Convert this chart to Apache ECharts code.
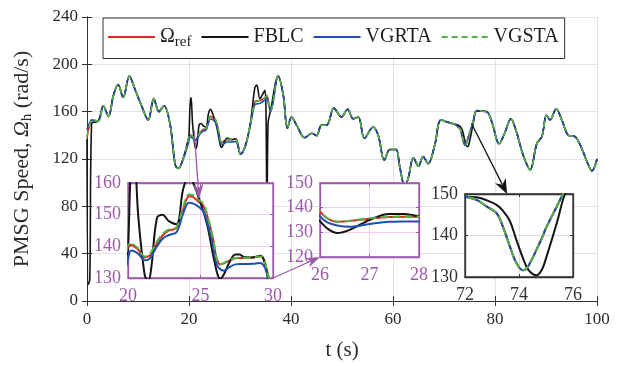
<!DOCTYPE html>
<html>
<head>
<meta charset="utf-8">
<script src="https://cdn.jsdelivr.net/npm/echarts@6/dist/echarts.min.js"></script>
<style>
  html, body { margin: 0; background: #fff; }
  #chart { width: 620px; height: 366px; }
</style>
</head>
<body>
<div id="chart"></div>
<script>
// time (s)
const tSec = [
  0, 0.25, 0.55, 0.9, 2.2, 3.2, 4.2, 5.2, 6.1, 7.1, 8.3, 9.4, 10.7, 12, 13.1, 14.1, 15.1, 16.3, 17.3, 17.9,
  18.9, 19.9, 20, 20.2, 20.4, 20.7, 21.15, 21.4, 21.6, 22, 22.4, 22.8, 23.35, 23.8, 24.2, 24.5, 24.9, 25.2, 25.5, 25.9,
  26, 26.15, 26.35, 26.6, 27, 27.4, 27.7, 28, 28.6, 29.1, 29.35, 29.7, 30.1, 31, 32, 32.9, 33.3, 33.9, 34.6, 34.9,
  35.1, 35.3, 35.5, 36, 37.5, 38.5, 39.3, 40.1, 41.1, 42.7, 44.1, 45, 46, 47, 48.4, 49.9, 51.1, 52.2, 53.2, 54.4,
  56.1, 57.1, 58.3, 59.4, 60.6, 61.3, 62.3, 63, 64, 65, 65.9, 66.9, 68.2, 69.4, 70.8, 72, 72.43, 72.8, 73.17, 73.4,
  73.66, 73.9, 74.15, 74.34, 74.65, 74.85, 75, 75.4, 75.7, 76.4, 77.4, 78.4, 79.4, 80.8, 82, 83.1, 84.2, 85.5, 86.9, 88.2,
  89.2, 90.1, 90.8, 92, 93.1, 94.4, 95.7, 97, 98.3, 99, 100
];
// speed (rad/s)
const refSpeed = [
  138, 144, 149, 153, 152, 165, 156, 174, 183, 172, 190, 179, 165, 153, 171, 160, 165, 149, 115, 112,
  121, 137, 139.5, 140.5, 140, 139, 136.5, 136.8, 137.5, 141, 143.5, 145, 145.8, 151.5, 155.8, 155.5, 154, 152.8, 149, 141.5,
  138.5, 135.7, 134.3, 134.6, 135.5, 136.2, 136.3, 136.3, 136.5, 136.8, 136, 130.3, 124, 130.5, 149, 168.5, 169, 169.5, 171, 172,
  173, 173.5, 170, 161, 190, 173.5, 146, 155.5, 148.6, 138, 141.7, 139.7, 148.6, 148.6, 163, 155.5, 162, 154, 155.5, 137.5,
  147, 140, 119, 128, 128, 114, 97, 104, 121, 114, 122, 116, 132, 153, 151, 149.4, 148.6, 147, 145.4, 142.2,
  137.4, 133.4, 131.6, 132.6, 136.6, 139.4, 141.8, 147, 151, 161, 160.5, 160, 151, 133, 143, 154, 143, 123.6, 111, 133,
  139, 157, 153, 162.5, 153, 140, 139, 129, 115, 110, 120
];
const fblcSpeed = [
  137, 14, 18, 150, 152, 165, 156, 174, 183, 172, 190, 179, 165, 153, 171, 160, 165, 149, 115, 112,
  121, 137, 139, 165, 172, 150, 131, 129, 133, 149, 150, 148, 147, 158, 162, 160, 155, 151, 146, 136.5,
  134.5, 131.5, 129.7, 131, 135, 137.4, 137.4, 136.6, 136.5, 137, 136, 129, 124, 130.5, 149, 180, 182.5, 171, 176, 178,
  160, 60, 150, 161, 190, 173.5, 146, 155.5, 148.6, 138, 141.7, 139.7, 148.6, 148.6, 163, 155.5, 162, 154, 155.5, 137.5,
  147, 140, 119, 128, 128, 114, 97, 104, 121, 114, 122, 116, 132, 153, 151, 149.4, 149.2, 148.5, 147.4, 146,
  143.5, 139, 134.5, 131.8, 130.4, 131.8, 134.5, 143, 150, 160.5, 160.5, 160, 151, 133, 143, 154, 143, 123.6, 111, 133,
  139, 157, 153, 162.5, 153, 140, 139, 129, 115, 110, 120
];
const vgrtaSpeed = [
  145, 148, 151, 153, 152, 165, 156, 174, 183, 172, 190, 179, 165, 153, 171, 160, 165, 149, 115, 112,
  120, 134, 136, 138.7, 138.5, 137.7, 135.6, 135.8, 136.8, 140, 142.5, 143.5, 144.5, 150.3, 153.8, 153.5, 152.4, 151, 147, 139.5,
  136.5, 134, 132.8, 132.3, 133.4, 134.3, 134.4, 134.4, 134.5, 134.7, 134, 130, 124, 130, 148, 166, 166.5, 167, 169, 170,
  171, 171.5, 168.5, 160, 190, 173.5, 146, 155.5, 148.6, 138, 141.7, 139.7, 148.6, 148.6, 163, 155.5, 162, 154, 155.5, 137.5,
  147, 140, 119, 128, 128, 114, 97, 104, 121, 114, 122, 116, 132, 153, 151, 149.4, 148.6, 147, 145.4, 142.2,
  137.4, 133.4, 131.6, 132.6, 136.6, 139.4, 141.8, 147, 151, 161, 160.5, 160, 151, 133, 143, 154, 143, 123.6, 111, 133,
  139, 157, 153, 162.5, 153, 140, 139, 129, 115, 110, 120
];
const vgstaSpeed = [
  139, 144, 149, 153, 152, 165, 156, 174, 183, 172, 190, 179, 165, 153, 171, 160, 165, 149, 115, 112,
  121, 138, 140.3, 141, 140.5, 139.3, 136.8, 137.2, 138.2, 141.5, 144, 145.3, 146.1, 152.4, 156.4, 156.2, 154.5, 153.5, 149.3, 141.8,
  138.5, 135.7, 134.3, 134.7, 135.7, 136.3, 136.4, 136.4, 136.6, 136.8, 136.1, 130.3, 124, 130.5, 149, 168, 168.5, 169.5, 171, 172,
  173, 173.5, 170, 161, 190, 173.5, 146, 155.5, 148.6, 138, 141.7, 139.7, 148.6, 148.6, 163, 155.5, 162, 154, 155.5, 137.5,
  147, 140, 119, 128, 128, 114, 97, 104, 121, 114, 122, 116, 132, 153, 151, 149.4, 148.6, 147, 145.4, 142.2,
  137.4, 133.4, 131.6, 132.6, 136.6, 139.4, 141.8, 147, 151, 161, 160.5, 160, 151, 133, 143, 154, 143, 123.6, 111, 133,
  139, 157, 153, 162.5, 153, 140, 139, 129, 115, 110, 120
];

const seriesNames = ['ref', 'FBLC', 'VGRTA', 'VGSTA'];
const seriesColors = ['#e3261e', '#141414', '#1d50ae', '#55b144'];
const seriesValues = [refSpeed, fblcSpeed, vgrtaSpeed, vgstaSpeed];

// [xmin, xmax, xstep, ymin, ymax, ystep] for main axes and the three zoom boxes
const axisRanges = [
  [0, 100, 20, 0, 240, 40],
  [20, 30, 5, 130, 160, 10],
  [26, 28, 1, 120, 150, 10],
  [72, 76, 2, 130, 150, 10]
];

const purple = '#9d58ac';
const serif = 'Liberation Serif';

const chart = echarts.init(document.getElementById('chart'));

const gridBoxes = [
  { left: 87, top: 17, width: 510, height: 288 },
  { left: 128, top: 183, width: 145, height: 95 },
  { left: 320, top: 183, width: 99, height: 74 },
  { left: 465, top: 194, width: 108, height: 83 }
];
const frameColor = ['#333', purple, purple, '#333'];
const splitColor = ['#e2e2e2', '#f3cdea', '#f3cdea', '#dcdcdc'];
const labelSize = [17, 18, 18, 18];

const grids = gridBoxes.map((b, i) => Object.assign({}, b, i === 0 ? { show: false } : {
  show: true, backgroundColor: '#fff', borderColor: frameColor[i], borderWidth: 1.3, z: 10
}));

const xAxes = [];
const yAxes = [];
axisRanges.forEach((r, i) => {
  const inset = i > 0;
  const z = inset ? 11 : 0;
  const line = { show: true, lineStyle: { color: frameColor[i], width: inset ? 1.3 : 1 } };
  const tick = { show: true, inside: true, length: inset ? 3 : 5, lineStyle: { color: frameColor[i] } };
  const label = { color: inset ? frameColor[i] : '#2b2b2b', fontFamily: serif, fontSize: labelSize[i] };
  xAxes.push({
    type: 'value', gridIndex: i, min: r[0], max: r[1], interval: r[2], z,
    axisLine: line, axisTick: tick,
    axisLabel: Object.assign({ margin: inset ? 9 : 10 }, label),
    splitLine: { show: true, lineStyle: { color: splitColor[i], width: 1 } }
  });
  xAxes.push({
    type: 'value', gridIndex: i, position: 'top', min: r[0], max: r[1], interval: r[2], z,
    axisLine: line, axisTick: tick, axisLabel: { show: false }, splitLine: { show: false }
  });
  yAxes.push({
    type: 'value', gridIndex: i, min: r[3], max: r[4], interval: r[5], z,
    axisLine: line, axisTick: tick,
    axisLabel: Object.assign({ margin: inset ? 7 : 9 }, label),
    splitLine: { show: true, lineStyle: { color: splitColor[i], width: 1 } }
  });
  yAxes.push({
    type: 'value', gridIndex: i, position: 'right', min: r[3], max: r[4], interval: r[5], z,
    axisLine: line, axisTick: tick, axisLabel: { show: false }, splitLine: { show: false }
  });
});

// axis titles
xAxes[0].name = 't (s)';
xAxes[0].nameLocation = 'middle';
xAxes[0].nameGap = 39;
xAxes[0].nameTextStyle = { fontFamily: serif, fontSize: 21, color: '#2b2b2b' };
yAxes[0].name = '{t|PMSG Speed, }{o|Ω}{s|h}{t| (rad/s)}';
yAxes[0].nameLocation = 'middle';
yAxes[0].nameGap = 52;
yAxes[0].nameTextStyle = {
  color: '#2b2b2b',
  rich: {
    t: { fontFamily: serif, fontSize: 22, color: '#2b2b2b' },
    o: { fontFamily: serif, fontSize: 22, fontStyle: 'italic', color: '#2b2b2b' },
    s: { fontFamily: serif, fontSize: 15, color: '#2b2b2b', verticalAlign: 'bottom', padding: [10, 0, 0, 0] }
  }
};

const series = [];
axisRanges.forEach((r, gi) => {
  seriesNames.forEach((name, k) => {
    const dashed = name === 'VGSTA';
    series.push({
      name, type: 'line',
      xAxisIndex: gi * 2, yAxisIndex: gi * 2,
      data: tSec.map((t, j) => [t, seriesValues[k][j]]),
      showSymbol: false, symbol: 'none', smooth: 0.35, clip: true,
      z: gi === 0 ? 2 : 12,
      lineStyle: {
        color: seriesColors[k],
        width: gi === 0 ? 1.6 : 2,
        type: dashed ? (gi === 0 ? [6, 4] : [8, 4]) : 'solid'
      },
      itemStyle: { color: seriesColors[k] },
      silent: true
    });
  });
});

chart.setOption({
  animation: false,
  backgroundColor: '#fff',
  grid: grids,
  xAxis: xAxes,
  yAxis: yAxes,
  legend: {
    data: seriesNames,
    left: 103, top: 18,
    padding: [9, 6, 9, 4],
    itemGap: 9, itemWidth: 47, itemHeight: 12,
    borderColor: '#333', borderWidth: 1, backgroundColor: '#fff',
    z: 20,
    itemStyle: { opacity: 0 },
    formatter: n => n === 'ref' ? '{o|Ω}{s|ref}' : n,
    textStyle: {
      fontFamily: serif, fontSize: 20, color: '#1e1e1e',
      rich: {
        o: { fontFamily: serif, fontSize: 20, color: '#1e1e1e' },
        s: { fontFamily: serif, fontSize: 15, color: '#1e1e1e', verticalAlign: 'bottom', padding: [10, 0, 0, 0] }
      }
    }
  },
  series
});

// pointer arrows between the curves and the zoom boxes
function arrow(a, b, color, len, wid) {
  const dx = b[0] - a[0], dy = b[1] - a[1];
  const d = Math.hypot(dx, dy), ux = dx / d, uy = dy / d, nx = -uy, ny = ux;
  const back = [b[0] - ux * len, b[1] - uy * len];
  const notch = [b[0] - ux * len * 0.7, b[1] - uy * len * 0.7];
  return [
    { type: 'line', z: 100, silent: true,
      shape: { x1: a[0], y1: a[1], x2: notch[0], y2: notch[1] },
      style: { stroke: color, lineWidth: 1.3 } },
    { type: 'polygon', z: 100, silent: true,
      shape: { points: [b, [back[0] + nx * wid / 2, back[1] + ny * wid / 2], notch, [back[0] - nx * wid / 2, back[1] - ny * wid / 2]] },
      style: { fill: color } }
  ];
}
const px = (gi, p) => chart.convertToPixel({ xAxisIndex: gi * 2, yAxisIndex: gi * 2 }, p);

chart.setOption({
  graphic: [].concat(
    arrow(px(0, [21.0, 144.5]), px(1, [24.9, 155]), purple, 15, 11),
    arrow(px(1, [30, 130]), px(2, [26, 120]), purple, 14, 10),
    arrow(px(0, [75.4, 150]), px(3, [73.56, 150]), '#141414', 15, 12)
  )
});
</script>
</body>
</html>
